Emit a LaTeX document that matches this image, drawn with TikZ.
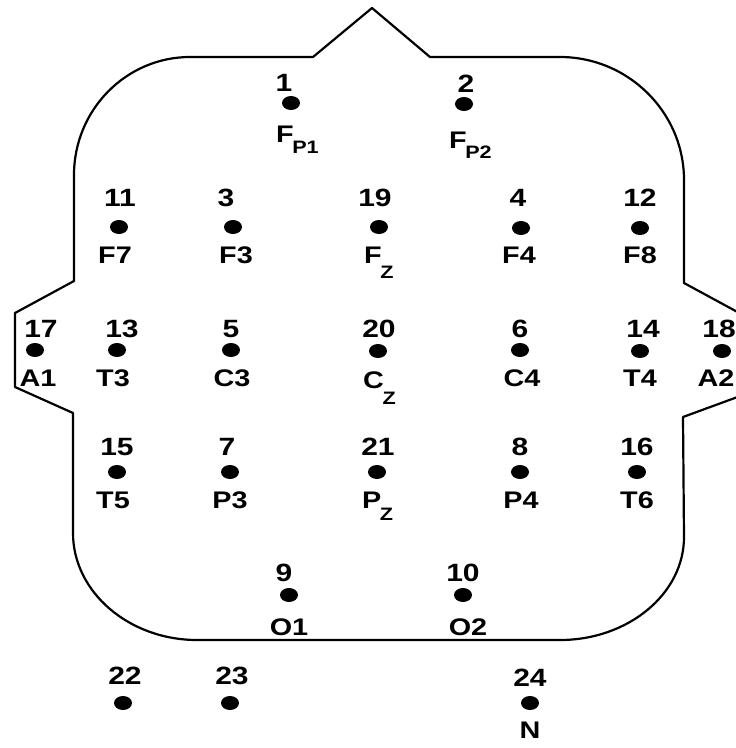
\documentclass[tikz,border=0pt]{standalone}
\usepackage{fontspec}
\setmainfont{Liberation Sans}[FakeStretch=1.2]
\usetikzlibrary{shapes.geometric}
\newcommand{\elsub}[2]{\kern-1.5pt\raisebox{-#1pt}{\fontsize{18}{18}\selectfont\bfseries #2}}

\begin{document}
\begin{tikzpicture}[x=1pt, y=-1pt,
  elec/.style={ellipse, fill=black, inner sep=0pt, minimum width=18pt, minimum height=14pt},
  num/.style={anchor=base, inner sep=0pt, font=\fontsize{25}{25}\selectfont\bfseries},
  lbl/.style={anchor=base, inner sep=0pt, font=\fontsize{24}{24}\selectfont\bfseries},
  lblsub/.style={lbl, anchor=base west}]
  \useasboundingbox (0,0) rectangle (736,748);
  \clip (0,0) rectangle (736,748);
  % Head with nose and ears
  \draw[line width=2.2pt, line join=round] (313,57) -- (372,8) -- (430,57) -- (560,57)
    .. controls (628,57) and (684,112) .. (684,180) -- (684,283)
    -- (743,315) -- (743,395) -- (683,417) -- (684,537)
    .. controls (684,594) and (628,640) .. (560,640) -- (197,640)
    .. controls (129,640) and (73,592) .. (73,533) -- (73,413)
    -- (15,387) -- (15,313) -- (74,281) -- (74,175)
    .. controls (74,110) and (126,57) .. (190,57) -- cycle;
  % Frontal pole
  \node[elec] (e1) at (291,103) {};
  \node[num] (n1) at (284,91) {1};
  \node[lblsub] (l1) at (276,142) {F\elsub{11}{P1}};
  \node[elec] (e2) at (464,104) {};
  \node[num] (n2) at (466,92) {2};
  \node[lblsub] (l2) at (449,148) {F\elsub{10}{P2}};
  % Frontal row
  \node[elec] (e11) at (119,227) {};
  \node[num] (n11) at (120,206) {11};
  \node[lbl] (l11) at (115,263) {F7};
  \node[elec] (e3) at (233,227) {};
  \node[num] (n3) at (226,206) {3};
  \node[lbl] (l3) at (236,263) {F3};
  \node[elec] (e19) at (379,227) {};
  \node[num] (n19) at (375,206) {19};
  \node[lblsub] (l19) at (364,263) {F\elsub{15}{Z}};
  \node[elec] (e4) at (521,228) {};
  \node[num] (n4) at (518,206) {4};
  \node[lbl] (l4) at (519,263) {F4};
  \node[elec] (e12) at (640,228) {};
  \node[num] (n12) at (640,206) {12};
  \node[lbl] (l12) at (640,263) {F8};
  % Central row
  \node[elec] (e17) at (35,350) {};
  \node[num] (n17) at (41,337) {17};
  \node[lbl] (l17) at (38,386) {A1};
  \node[elec] (e13) at (117,350) {};
  \node[num] (n13) at (122,337) {13};
  \node[lbl] (l13) at (113,386) {T3};
  \node[elec] (e5) at (231,350) {};
  \node[num] (n5) at (231,337) {5};
  \node[lbl] (l5) at (232,386) {C3};
  \node[elec] (e20) at (378,351) {};
  \node[num] (n20) at (379,337) {20};
  \node[lblsub] (l20) at (363,388) {C\elsub{16}{Z}};
  \node[elec] (e6) at (520,350) {};
  \node[num] (n6) at (520,337) {6};
  \node[lbl] (l6) at (522,386) {C4};
  \node[elec] (e14) at (640,351) {};
  \node[num] (n14) at (643,337) {14};
  \node[lbl] (l14) at (640,386) {T4};
  \node[elec] (e18) at (722,351) {};
  \node[num, anchor=base east] (n18) at (736,337) {18};
  \node[lbl] (l18) at (716,386) {A2};
  % Parietal row
  \node[elec] (e15) at (117,472) {};
  \node[num] (n15) at (117,455) {15};
  \node[lbl] (l15) at (113,508) {T5};
  \node[elec] (e7) at (230,472) {};
  \node[num] (n7) at (227,455) {7};
  \node[lbl] (l7) at (230,508) {P3};
  \node[elec] (e21) at (377,472) {};
  \node[num] (n21) at (378,455) {21};
  \node[lblsub] (l21) at (362,508) {P\elsub{12}{Z}};
  \node[elec] (e8) at (520,472) {};
  \node[num] (n8) at (520,455) {8};
  \node[lbl] (l8) at (521,508) {P4};
  \node[elec] (e16) at (637,472) {};
  \node[num] (n16) at (637,455) {16};
  \node[lbl] (l16) at (637,508) {T6};
  % Occipital
  \node[elec] (e9) at (289,595) {};
  \node[num] (n9) at (284,581) {9};
  \node[lbl] (l9) at (289,635) {O1};
  \node[elec] (e10) at (463,595) {};
  \node[num] (n10) at (463,581) {10};
  \node[lbl] (l10) at (468,635) {O2};
  % Outside the head
  \node[elec] (e22) at (123,703) {};
  \node[num] (n22) at (125,684) {22};
  \node[elec] (e23) at (230,703) {};
  \node[num] (n23) at (232,684) {23};
  \node[elec] (e24) at (530,703) {};
  \node[num] (n24) at (530,686) {24};
  \node[lbl] (l24) at (530,738) {N};
\end{tikzpicture}
\end{document}
